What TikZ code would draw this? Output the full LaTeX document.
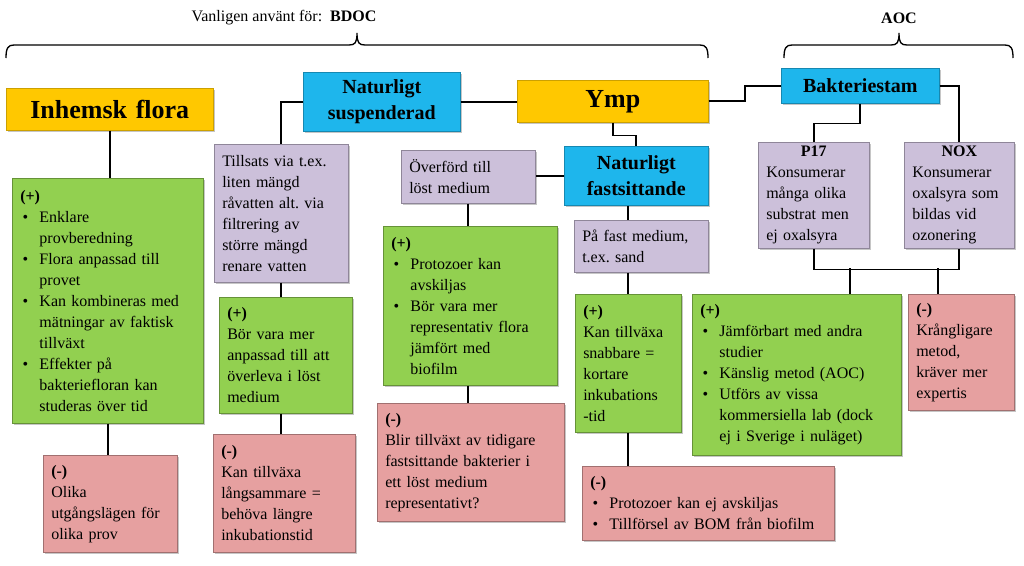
\documentclass[tikz,border=0pt]{standalone}
\usepackage{fontspec}
\setmainfont{Liberation Serif}
\usetikzlibrary{shadows}
\definecolor{ympgul}{RGB}{255,200,0}
\definecolor{stamblue}{RGB}{30,182,236}
\definecolor{lavendel}{RGB}{204,192,218}
\definecolor{plusgron}{RGB}{146,208,80}
\definecolor{minusrod}{RGB}{230,160,160}
\newcommand{\brodtext}{\fontsize{12}{15.75}\selectfont\frenchspacing\hyphenpenalty=10000\exhyphenpenalty=10000}
\newcommand{\punkt}[1]{\par\hangindent=1.2em\hangafter=1\noindent\makebox[1.2em][l]{\hspace{0.15em}\textbullet}#1\par}
% klammer: vänster x, spets x, höger x
\newcommand{\klammer}[3]{\draw[line width=1pt] (#1,58) .. controls (#1,48) and (#1+2,45) .. (#1+8,45) -- (#2-8,45) .. controls (#2-2,45) and (#2,43) .. (#2,33) .. controls (#2,43) and (#2+2,45) .. (#2+8,45) -- (#3-8,45) .. controls (#3-2,45) and (#3,48) .. (#3,58);}

\tikzset{
  ruta/.style={anchor=north west, inner xsep=6pt, inner ysep=3pt, font=\brodtext, align=left,
    drop shadow={shadow xshift=1.5pt, shadow yshift=-1.5pt, opacity=0.45}},
  storlek/.style 2 args={minimum width=#1*0.75pt, minimum height=#2*0.75pt, text width=#1*0.75pt-12pt},
  gul/.style={ruta, fill=ympgul, draw=ympgul!80!black, align=center, font=\bfseries\fontsize{19.5}{23}\selectfont},
  bla/.style={ruta, fill=stamblue, draw=stamblue!75!black, align=center, font=\bfseries\fontsize{15}{19.5}\selectfont},
  lav/.style={ruta, fill=lavendel, draw=lavendel!70!black},
  plus/.style={ruta, fill=plusgron, draw=plusgron!70!black},
  minus/.style={ruta, fill=minusrod, draw=minusrod!70!black},
  linje/.style={line width=1.4pt},
}

\begin{document}
\begin{tikzpicture}[x=0.75pt, y=-0.75pt]
\useasboundingbox (0,0) rectangle (1024,565);
% rubriker
\node[font=\fontsize{12}{14}\selectfont] (bdoclab) at (284,18) {Vanligen använt för:\ \ \textbf{BDOC}};
\node[font=\bfseries\fontsize{12}{14}\selectfont] (aoclab) at (899,18) {AOC};
\klammer{6}{357}{708}
\klammer{784}{899}{1013}
% huvudrutor
\node[gul, storlek={207}{42}] (inh) at (6,88) {Inhemsk flora};
\node[bla, storlek={157}{59}] (susp) at (303,72) {Naturligt\\suspenderad};
\node[gul, storlek={191}{42}] (ymp) at (517,80) {Ymp};
\node[bla, storlek={158}{35}] (bakt) at (781,68) {Bakteriestam};
\node[bla, storlek={144}{59}] (fast) at (564,146) {Naturligt\\fastsittande};
% beskrivningar
\node[lav, storlek={134}{138}] (tills) at (214,144) {Tillsats via t.ex.\\liten mängd\\råvatten alt. via\\filtrering av\\större mängd\\renare vatten};
\node[lav, storlek={134}{53}] (overf) at (401,150) {Överförd till\\löst medium};
\node[lav, storlek={134}{52}] (pafast) at (574,220) {På fast medium,\\t.ex. sand};
\node[lav, storlek={111}{105}] (p17) at (758,142) {\makebox[\hsize][c]{\textbf{P17}}\\Konsumerar\\många olika\\substrat men\\ej oxalsyra};
\node[lav, storlek={110}{105}] (nox) at (904,142) {\makebox[\hsize][c]{\textbf{NOX}}\\Konsumerar\\oxalsyra som\\bildas vid\\ozonering};
% fördelar
\node[plus, storlek={191}{245}] (ginh) at (12,178) {\textbf{(+)}\punkt{Enklare\newline provberedning}\punkt{Flora anpassad till\newline provet}\punkt{Kan kombineras med\newline mätningar av faktisk\newline tillväxt}\punkt{Effekter på\newline bakteriefloran kan\newline studeras över tid}};
\node[plus, storlek={133}{116}] (gtill) at (219,297) {\textbf{(+)}\\Bör vara mer\\anpassad till att\\överleva i löst\\medium};
\node[plus, storlek={174}{159}] (goverf) at (383,226) {\textbf{(+)}\punkt{Protozoer kan\newline avskiljas}\punkt{Bör vara mer\newline representativ flora\newline jämfört med\newline biofilm}};
\node[plus, storlek={106}{138}] (gfast) at (575,294) {\textbf{(+)}\\Kan tillväxa\\snabbare =\\kortare\\inkubations\\-tid};
\node[plus, storlek={209}{161}] (gaoc) at (692,294) {\textbf{(+)}\punkt{Jämförbart med andra\newline studier}\punkt{Känslig metod (AOC)}\punkt{Utförs av vissa\newline kommersiella lab (dock\newline ej i Sverige i nuläget)}};
% nackdelar
\node[minus, storlek={106}{116}] (raoc) at (908,294) {\textbf{(-)}\\Krångligare\\metod,\\kräver mer\\expertis};
\node[minus, storlek={134}{97}] (rinh) at (43,455) {\textbf{(-)}\\Olika\\utgångslägen för\\olika prov};
\node[minus, storlek={142}{118}] (rtill) at (213,434) {\textbf{(-)}\\Kan tillväxa\\långsammare =\\behöva längre\\inkubationstid};
\node[minus, storlek={187}{118}] (roverf) at (377,403) {\textbf{(-)}\\Blir tillväxt av tidigare\\fastsittande bakterier i\\ett löst medium\\representativt?};
\node[minus, storlek={252}{74}] (rfast) at (582,466) {\textbf{(-)}\punkt{Protozoer kan ej avskiljas}\punkt{Tillförsel av BOM från biofilm}};
% linjer
\draw[linje] (inh.south) -- (inh.south |- ginh.north);
\draw[linje] (ginh.south) -- (ginh.south |- rinh.north);
\draw[linje] (susp.west) -| (tills.north);
\draw[linje] (tills.south) -- (tills.south |- gtill.north);
\draw[linje] (tills.south |- gtill.south) -- (tills.south |- rtill.north);
\draw[linje] (susp.east) -- (susp.east -| ymp.west);
\draw[linje] (ymp.east) -| ([xshift=-27pt]bakt.west) -- (bakt.west);
\draw[linje] (bakt.east) -| (nox.north);
\draw[linje] (bakt.south) -- ++(0,20) -| (p17.north);
\draw[linje] (ymp.south) -- ++(0,13) -| (fast.north);
\draw[linje] (fast.west) -- (fast.west -| overf.east);
\draw[linje] (overf.south) -- (overf.south |- goverf.north);
\draw[linje] (overf.south |- goverf.south) -- (overf.south |- roverf.north);
\draw[linje] (gfast.north |- fast.south) -- (gfast.north |- pafast.north);
\draw[linje] (gfast.north |- pafast.south) -- (gfast.north);
\draw[linje] (gfast.south) -- (gfast.south |- rfast.north);
\draw[linje] (p17.south) -- ++(0,21) -| (nox.south);
\coordinate (aocplus) at (850,268);
\coordinate (aocminus) at (938,268);
\draw[linje] (aocplus) -- (aocplus |- gaoc.north);
\draw[linje] (aocminus) -- (aocminus |- raoc.north);
\end{tikzpicture}
\end{document}
